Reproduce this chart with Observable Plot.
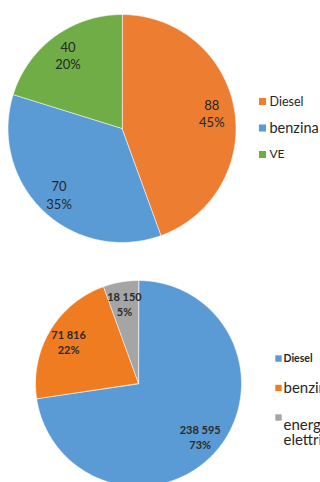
<!DOCTYPE html>
<html><head><meta charset="utf-8">
<script src="https://cdn.jsdelivr.net/npm/d3@7"></script>
<script src="https://cdn.jsdelivr.net/npm/@observablehq/plot@0.6"></script>
<style>html,body{margin:0;padding:0;background:#fff;overflow:hidden} svg{display:block}</style>
</head><body><div id="chart"></div>
<script>
// ---- data ----
const topCategories = ["Diesel", "benzina", "VE"];
const topValues = [88, 70, 40];
const topValueLabels = ["88", "70", "40"];
const topPercents = ["45%", "35%", "20%"];

const bottomCategories = ["Diesel", "benzina", "energia elettrica"];
const bottomValues = [238595, 71816, 18150];
const bottomValueLabels = ["238 595", "71 816", "18 150"];
const bottomPercents = ["73%", "22%", "5%"];

// ---- styles ----
const topColors = ["#ED7D31", "#5B9BD5", "#70AD47"];
const bottomColors = ["#5B9BD5", "#F07C22", "#A5A5A5"];
const FONT = "Lato, 'Open Sans', sans-serif";

function pieGeometry(cats, vals, cx, cy, r, labelFrac) {
  const arcs = d3.pie().sort(null).value(d => d)(vals);
  const rows = [];
  const labels = [];
  arcs.forEach((a, i) => {
    const n = Math.max(2, Math.ceil((a.endAngle - a.startAngle) / (Math.PI / 180)));
    rows.push({cat: cats[i], x: cx, y: cy});
    for (let k = 0; k <= n; k++) {
      const t = a.startAngle + (a.endAngle - a.startAngle) * k / n;
      rows.push({cat: cats[i], x: cx + r * Math.sin(t), y: cy - r * Math.cos(t)});
    }
    const mid = (a.startAngle + a.endAngle) / 2;
    labels.push({cat: cats[i], x: cx + labelFrac * r * Math.sin(mid), y: cy - labelFrac * r * Math.cos(mid)});
  });
  return {rows, labels};
}

function piePlot({W, H, cats, vals, valueLabels, percents, colors, cx, cy, r, labelFrac,
                  labelSize, labelWeight, labelColor, legend}) {
  const g = pieGeometry(cats, vals, cx, cy, r, labelFrac);
  g.labels.forEach((d, i) => d.text = valueLabels[i] + "\n" + percents[i]);
  const leg = cats.map((c, i) => ({
    cat: c,
    sx: legend.x,
    sy: legend.y0 + i * legend.step + (legend.squareDy[i] || 0),
    tx: legend.x + legend.gap,
    ty: legend.y0 + i * legend.step + (legend.textDy[i] || 0),
    text: legend.texts[i],
    size: legend.sizes[i],
    weight: legend.weights[i]
  }));
  return Plot.plot({
    width: W, height: H,
    margin: 0,
    style: {background: "#fff", fontFamily: FONT},
    x: {domain: [0, W], range: [0, W], axis: null},
    y: {domain: [0, H], range: [0, H], axis: null},
    color: {domain: cats, range: colors},
    marks: [
      Plot.line(g.rows, {x: "x", y: "y", z: "cat", fill: "cat", stroke: "#fff", strokeWidth: 0.6, curve: "linear-closed"}),
      Plot.text(g.labels, {x: "x", y: "y", text: "text", fontSize: labelSize, fontWeight: labelWeight,
        fill: labelColor, lineAnchor: "middle", lineHeight: 1.35, textAnchor: "middle"}),
      Plot.dot(leg, {x: "sx", y: "sy", fill: "cat", symbol: "square", r: legend.r, stroke: null}),
      ...leg.map(d => Plot.text([d], {x: "tx", y: "ty", text: "text", textAnchor: "start", lineAnchor: "middle",
        fontSize: d.size, fontWeight: d.weight, fill: "#262626", lineHeight: 1.0}))
    ]
  });
}

const topChart = piePlot({
  W: 320, H: 250,
  cats: topCategories, vals: topValues, valueLabels: topValueLabels, percents: topPercents, colors: topColors,
  cx: 121.5, cy: 128, r: 114, labelFrac: 0.8,
  labelSize: 13, labelWeight: 400, labelColor: "#262626",
  legend: {x: 262, y0: 101, step: 26.5, gap: 7, r: 4, squareDy: [], textDy: [],
    texts: ["Diesel", "benzina", "VE"], sizes: [12.5, 14.5, 12], weights: [400, 400, 400]}
});

const bottomChart = piePlot({
  W: 320, H: 232,
  cats: bottomCategories, vals: bottomValues, valueLabels: bottomValueLabels, percents: bottomPercents, colors: bottomColors,
  cx: 138, cy: 133, r: 103, labelFrac: 0.79,
  labelSize: 11, labelWeight: 700, labelColor: "#2a2a2a",
  legend: {x: 278, y0: 108, step: 29.5, gap: 5, r: 3.6, squareDy: [0, 0, 0], textDy: [0, 0, 15],
    texts: ["Diesel", "benzina", "energia\nelettrica"], sizes: [10.5, 15, 15], weights: [700, 400, 400]}
});

document.getElementById("chart").append(topChart, bottomChart);
</script>
</body></html>
